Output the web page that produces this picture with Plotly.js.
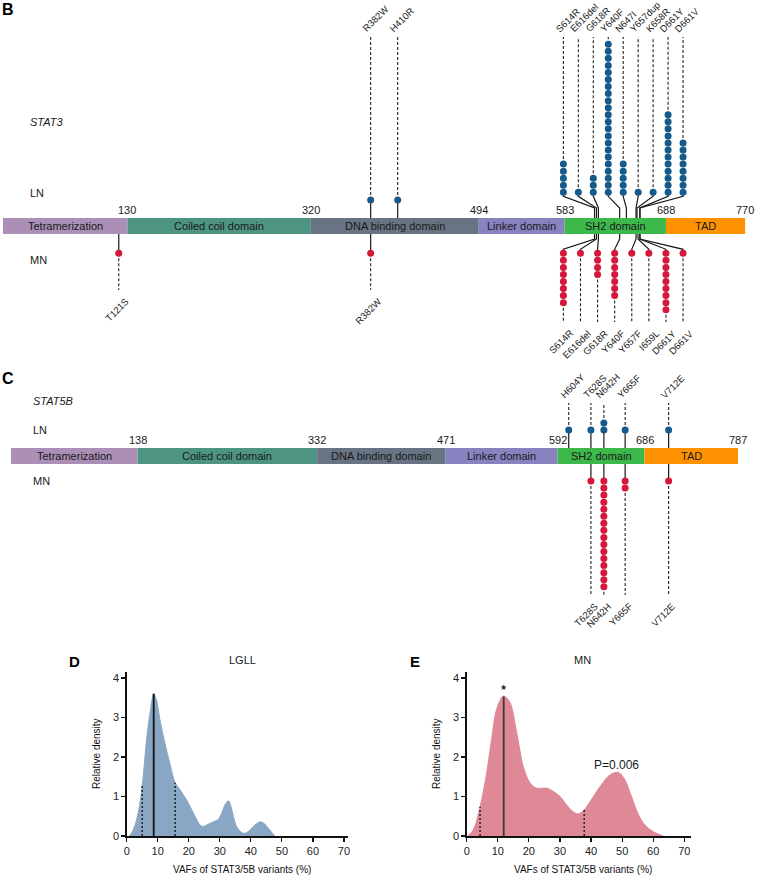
<!DOCTYPE html>
<html><head><meta charset="utf-8">
<script src="https://cdn.plot.ly/plotly-3.0.1.min.js"></script>
<style>html,body{margin:0;padding:0;background:#fff}#chart{width:759px;height:876px}</style>
</head><body><div id="chart"></div>
<script>
// ================= DATA =================
const stat3DomainNames  = ['Tetramerization','Coiled coil domain','DNA binding domain','Linker domain','SH2 domain','TAD'];
const stat3DomainStarts = [1, 130, 320, 494, 583, 688];
const stat3DomainEnds   = [130, 320, 494, 583, 688, 770];

const stat3LNLabels = ['R382W','H410R','S614R','E616del','G618R','Y640F','N647I','Y657dup','K658R','D661Y','D661V'];
const stat3LNPos    = [382, 410, 614, 616, 618, 640, 647, 657, 658, 661, 661];
const stat3LNCounts = [1, 1, 5, 1, 3, 22, 5, 1, 1, 12, 8];

const stat3MNLabels = ['T121S','R382W','S614R','E616del','G618R','Y640F','Y657F','I659L','D661Y','D661V'];
const stat3MNPos    = [121, 382, 614, 616, 618, 640, 657, 659, 661, 661];
const stat3MNCounts = [1, 1, 8, 1, 4, 7, 1, 1, 9, 1];

const stat5bDomainNames  = ['Tetramerization','Coiled coil domain','DNA binding domain','Linker domain','SH2 domain','TAD'];
const stat5bDomainStarts = [1, 138, 332, 471, 592, 686];
const stat5bDomainEnds   = [138, 332, 471, 592, 686, 787];

const stat5bLNLabels = ['H604Y','T628S','N642H','Y665F','V712E'];
const stat5bLNPos    = [604, 628, 642, 665, 712];
const stat5bLNCounts = [1, 1, 2, 1, 1];

const stat5bMNLabels = ['T628S','N642H','Y665F','V712E'];
const stat5bMNPos    = [628, 642, 665, 712];
const stat5bMNCounts = [1, 16, 2, 1];

// density of VAFs
const lgllVAF     = [0.9, 2.1, 3.7, 5.0, 6.4, 7.5, 8.7, 9.7, 10.7, 12.3, 13.9, 15.6, 17.2, 19.3, 21.5, 23.6, 24.5, 25.8, 27.9, 29.5, 30.6, 31.7, 32.8, 33.6, 34.4, 35.4, 37.1, 38.2, 39.7, 41.3, 43.1, 44.5, 46.1, 47.7];
const lgllDensity = [0, 0.15, 0.58, 1.27, 2.44, 3.11, 3.6, 3.41, 2.94, 2.35, 1.84, 1.35, 1.17, 0.91, 0.58, 0.28, 0.24, 0.28, 0.36, 0.42, 0.58, 0.79, 0.89, 0.74, 0.49, 0.24, 0.085, 0.07, 0.15, 0.28, 0.36, 0.30, 0.15, 0];
const lgllQuartiles = [5.0, 8.7, 15.6];

const mnVAF     = [0.3, 2.1, 4.3, 6.4, 8.0, 9.6, 11.8, 13.9, 16.1, 18.2, 20.4, 22.5, 25.7, 27.8, 30.0, 32.1, 34.3, 35.9, 37.8, 39.7, 42.9, 46.1, 48.8, 50.9, 53.0, 55.2, 57.3, 60.0, 63.2];
const mnDensity = [0, 0.15, 0.74, 1.59, 2.44, 3.2, 3.54, 3.38, 2.61, 1.76, 1.34, 1.21, 1.21, 1.13, 1.0, 0.79, 0.61, 0.56, 0.66, 0.87, 1.25, 1.55, 1.61, 1.42, 1.0, 0.55, 0.28, 0.11, 0];
const mnQuartiles = [4.3, 11.9, 37.8];
const mnPeakMark = '★';
const mnPValue = 'P=0.006';

const densityXTicks = [0, 10, 20, 30, 40, 50, 60, 70];
const densityYTicks = [0, 1, 2, 3, 4];

// ================= STYLE / LAYOUT =================
const W = 759, H = 876;
const PX = p => p / W, PY = p => 1 - p / H;
const FONT = 'Liberation Sans, Arial, Helvetica, sans-serif';
const DOMAIN_COLORS = ['#ab8fb7', '#4e9482', '#687483', '#8882c0', '#3db84b', '#ff9200'];
const LN_COLOR = '#165a8c', MN_COLOR = '#d4173b';
const DOT_STEP = 7.05;
const MUT_FONT = 9.5;

const data = [];
const annotations = [];

function paperText(xPx, yPx, text, font, opts) {
  annotations.push(Object.assign({xref:'paper', yref:'paper', x:PX(xPx), y:PY(yPx), text, showarrow:false,
    font:Object.assign({family:FONT, size:11, color:'#1a1a1a'}, font), xanchor:'center', yanchor:'middle'}, opts || {}));
}

function buildGene(o) {
  const g = o.geo, xa = o.xa, ya = o.ya;
  const barMid = (g.barTop + g.barBot) / 2;
  data.push({type:'bar', orientation:'h', xaxis:xa, yaxis:ya,
    base:o.starts, x:o.ends.map((e, i) => e - o.starts[i]),
    y:o.starts.map(() => barMid), width:g.barBot - g.barTop,
    marker:{color:DOMAIN_COLORS, line:{width:0}}, hoverinfo:'skip', showlegend:false});
  o.names.forEach((n, i) => annotations.push({xref:xa, yref:ya, x:(o.starts[i] + o.ends[i]) / 2, y:barMid,
    text:n, showarrow:false, font:{family:FONT, size:11, color:'#1a1a1a'}}));
  o.ends.forEach(e => annotations.push({xref:xa, yref:ya, x:e, y:g.barTop - 8.5, text:String(e),
    showarrow:false, font:{family:FONT, size:11, color:'#1a1a1a'}}));

  const solid = {x:[], y:[]}, dashed = {x:[], y:[]};
  const seg = (t, pts) => { pts.forEach(p => { t.x.push(p[0]); t.y.push(p[1]); }); t.x.push(null); t.y.push(null); };

  function track(labels, pos, counts, up, color) {
    const disp = pos.slice(), spread = pos.map(() => false);
    if (g.spread) {
      const idx = pos.map((p, i) => i).filter(i => pos[i] >= g.spread.from && pos[i] <= g.spread.to);
      idx.forEach((i, k) => { disp[i] = g.spread.x0 + (g.spread.x1 - g.spread.x0) * k / (idx.length - 1); spread[i] = true; });
    }
    const dx = [], dy = [];
    pos.forEach((p, i) => {
      const xd = disp[i];
      if (up) {
        const base = spread[i] ? g.lnSpreadBase : g.lnBase;
        seg(solid, spread[i] ? [[p, g.barTop], [p, g.barTop - 10], [xd, base + 4], [xd, base]] : [[p, g.barTop], [p, base]]);
        let last = base;
        for (let k = 0; k < counts[i]; k++) { last = base - k * DOT_STEP; dx.push(xd); dy.push(last); }
        seg(dashed, [[xd, last], [xd, g.lnStemEnd]]);
        annotations.push({xref:xa, yref:ya, x:xd, y:g.lnStemEnd, text:labels[i], showarrow:false, textangle:-45,
          xanchor:'left', yanchor:'bottom', xshift:g.upXShift, yshift:g.upYShift,
          font:{family:FONT, size:MUT_FONT, color:'#1a1a1a'}});
      } else {
        const base = g.mnBase;
        seg(solid, spread[i] ? [[p, g.barBot], [p, g.barBot + 5], [xd, base - 4], [xd, base]] : [[p, g.barBot], [p, base]]);
        let last = base;
        for (let k = 0; k < counts[i]; k++) { last = base + k * DOT_STEP; dx.push(xd); dy.push(last); }
        const end = spread[i] ? g.mnStemSpread : g.mnStemEnd;
        seg(dashed, [[xd, last], [xd, end]]);
        annotations.push({xref:xa, yref:ya, x:xd, y:end, text:labels[i], showarrow:false, textangle:-45,
          xanchor:'right', yanchor:'top', xshift:g.dnXShift, yshift:g.dnYShift,
          font:{family:FONT, size:MUT_FONT, color:'#1a1a1a'}});
      }
    });
    return {dx, dy, color};
  }
  const a = track(o.lnLabels, o.lnPos, o.lnCounts, true, LN_COLOR);
  const b = track(o.mnLabels, o.mnPos, o.mnCounts, false, MN_COLOR);
  data.push({type:'scatter', mode:'lines', x:solid.x, y:solid.y, xaxis:xa, yaxis:ya, line:{color:'#1a1a1a', width:1.2},
    connectgaps:false, hoverinfo:'skip', showlegend:false, cliponaxis:false});
  data.push({type:'scatter', mode:'lines', x:dashed.x, y:dashed.y, xaxis:xa, yaxis:ya, line:{color:'#222', width:1.1, dash:'3px,2px'},
    connectgaps:false, hoverinfo:'skip', showlegend:false, cliponaxis:false});
  [a, b].forEach(t => data.push({type:'scatter', mode:'markers', x:t.dx, y:t.dy, xaxis:xa, yaxis:ya,
    marker:{color:t.color, size:7, line:{width:0}}, hoverinfo:'skip', showlegend:false, cliponaxis:false}));
}

buildGene({xa:'x', ya:'y', names:stat3DomainNames, starts:stat3DomainStarts, ends:stat3DomainEnds,
  lnLabels:stat3LNLabels, lnPos:stat3LNPos, lnCounts:stat3LNCounts,
  mnLabels:stat3MNLabels, mnPos:stat3MNPos, mnCounts:stat3MNCounts,
  geo:{barTop:218, barBot:234, lnBase:200, lnSpreadBase:192.3, lnStemEnd:37, mnBase:253.3, mnStemEnd:290, mnStemSpread:322,
       spread:{from:583, to:688, x0:581.7, x1:705.7}, upXShift:-13, upYShift:0, dnXShift:15, dnYShift:-3}});

buildGene({xa:'x2', ya:'y2', names:stat5bDomainNames, starts:stat5bDomainStarts, ends:stat5bDomainEnds,
  lnLabels:stat5bLNLabels, lnPos:stat5bLNPos, lnCounts:stat5bLNCounts,
  mnLabels:stat5bMNLabels, mnPos:stat5bMNPos, mnCounts:stat5bMNCounts,
  geo:{barTop:448, barBot:464, lnBase:430, lnSpreadBase:430, lnStemEnd:403, mnBase:481, mnStemEnd:595, mnStemSpread:595,
       spread:null, upXShift:-13, upYShift:0, dnXShift:12, dnYShift:-3}});

// ---------- density panels ----------
function interp(xs, ys, x) {
  for (let i = 1; i < xs.length; i++) if (x <= xs[i]) {
    const t = (x - xs[i - 1]) / (xs[i] - xs[i - 1]); return ys[i - 1] + t * (ys[i] - ys[i - 1]);
  }
  return 0;
}
function density(xs, ys, q, fill, medColor, xa, ya) {
  data.push({type:'scatter', mode:'lines', x:xs, y:ys, xaxis:xa, yaxis:ya, fill:'tozeroy', fillcolor:fill,
    line:{color:fill, width:1, shape:'spline', smoothing:0.9}, hoverinfo:'skip', showlegend:false});
  const dq = {x:[], y:[]};
  [q[0], q[2]].forEach(v => { dq.x.push(v, v, null); dq.y.push(0, interp(xs, ys, v), null); });
  data.push({type:'scatter', mode:'lines', x:dq.x, y:dq.y, xaxis:xa, yaxis:ya, line:{color:'#2a2a2a', width:1.6, dash:'2px,2px'},
    connectgaps:false, hoverinfo:'skip', showlegend:false});
  data.push({type:'scatter', mode:'lines', x:[q[1], q[1]], y:[0, interp(xs, ys, q[1])], xaxis:xa, yaxis:ya,
    line:{color:medColor, width:1.8}, hoverinfo:'skip', showlegend:false});
}
density(lgllVAF, lgllDensity, lgllQuartiles, '#89a7c4', '#111', 'x3', 'y3');
density(mnVAF, mnDensity, mnQuartiles, '#df8896', '#3a3a3a', 'x4', 'y4');
annotations.push({xref:'x4', yref:'y4', x:mnQuartiles[1], y:interp(mnVAF, mnDensity, mnQuartiles[1]) + 0.22, text:mnPeakMark,
  showarrow:false, font:{family:'DejaVu Sans, sans-serif', size:8, color:'#222'}});
annotations.push({xref:'x4', yref:'y4', x:48.2, y:1.8, text:mnPValue, showarrow:false,
  font:{family:FONT, size:12, color:'#1a1a1a'}});

// ---------- panel texts ----------
paperText(0, 9, '<b>B</b>', {size:16, color:'#000'}, {xanchor:'left'});
paperText(0, 378.5, '<b>C</b>', {size:16, color:'#000'}, {xanchor:'left'});
paperText(28, 121.5, '<i>STAT3</i>', {size:11}, {xanchor:'left'});
paperText(28, 193.5, 'LN', {size:11}, {xanchor:'left'});
paperText(28, 259.5, 'MN', {size:11}, {xanchor:'left'});
paperText(31, 401, '<i>STAT5B</i>', {size:11}, {xanchor:'left'});
paperText(31, 430, 'LN', {size:11}, {xanchor:'left'});
paperText(31, 481, 'MN', {size:11}, {xanchor:'left'});

paperText(74, 661, '<b>D</b>', {size:15, color:'#000'});
paperText(415, 661, '<b>E</b>', {size:15, color:'#000'});
paperText(242.7, 660, 'LGLL', {size:11});
paperText(582.8, 660, 'MN', {size:11});
paperText(241.7, 869, 'VAFs of STAT3/5B variants (%)', {size:10, color:'#111'});
paperText(582.5, 869, 'VAFs of STAT3/5B variants (%)', {size:10, color:'#111'});
paperText(96.7, 753.3, 'Relative density', {size:10, color:'#111'}, {textangle:-90});
paperText(436.7, 753.3, 'Relative density', {size:10, color:'#111'}, {textangle:-90});

const hidden = (domain, range) => ({domain, range, visible:false, showgrid:false, zeroline:false, fixedrange:true});
const densAx = (domain, range, anchor, ticks) => ({domain, range, anchor, showline:true, linecolor:'#111', linewidth:1.5,
  ticks:'outside', ticklen:4, tickwidth:1.2, tickcolor:'#111', showgrid:false, zeroline:false,
  tickmode:'array', tickvals:ticks, tickfont:{family:FONT, size:11, color:'#222'}, fixedrange:true});

const layout = {
  width:W, height:H, margin:{l:0, r:0, t:0, b:0}, paper_bgcolor:'#fff', plot_bgcolor:'rgba(0,0,0,0)',
  showlegend:false, barmode:'overlay', font:{family:FONT},
  xaxis:hidden([0, 1], [-2.07, 784.4]),
  yaxis:hidden([PY(365), 1], [365, 0]),
  xaxis2:Object.assign(hidden([0, 1], [-10.8, 809.7]), {anchor:'y2'}),
  yaxis2:Object.assign(hidden([PY(640), PY(365)], [640, 365]), {anchor:'x2'}),
  xaxis3:densAx([PX(126.7), PX(347.7)], [0, 71.2], 'y3', densityXTicks),
  yaxis3:densAx([PY(836), PY(672)], [0, 4.15], 'x3', densityYTicks),
  xaxis4:densAx([PX(466.7), PX(690.7)], [0, 72.05], 'y4', densityXTicks),
  yaxis4:densAx([PY(836), PY(672)], [0, 4.15], 'x4', densityYTicks),
  annotations
};
Plotly.newPlot('chart', data, layout, {staticPlot:true, displayModeBar:false});
</script></body></html>
